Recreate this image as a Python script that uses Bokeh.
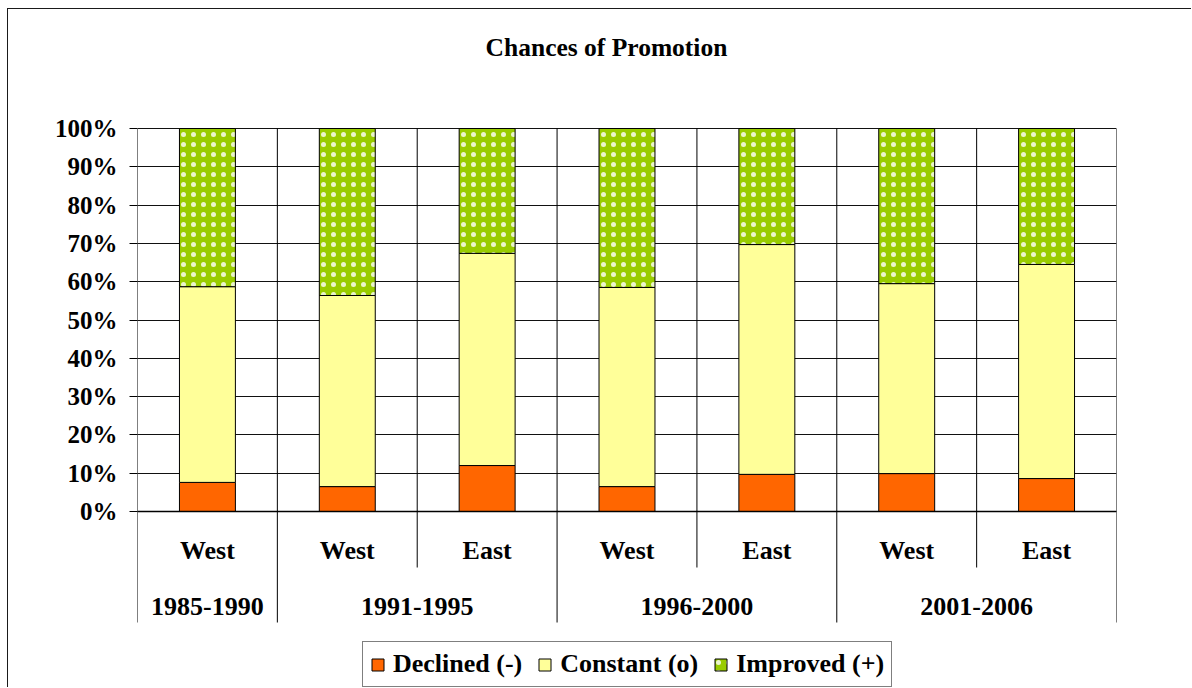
from bokeh.plotting import figure
from bokeh.models import (ColumnDataSource, Range1d, FixedTicker, NumeralTickFormatter,
                          Legend, LegendItem, Label, Span)
from bokeh.core.properties import value
from bokeh.embed import file_html
from bokeh.resources import INLINE

# ---------------- data ----------------
title = "Chances of Promotion"
regions = ["West", "West", "East", "West", "East", "West", "East"]
periods = ["1985-1990", "1991-1995", "1996-2000", "2001-2006"]
period_sizes = [1, 2, 2, 2]
series_names = ["Declined (-)", "Constant (o)", "Improved (+)"]
declined = [7.6, 6.5, 12.0, 6.5, 9.7, 9.9, 8.6]
constant = [51.1, 49.9, 55.4, 52.0, 60.0, 49.6, 55.9]
improved = [41.3, 43.6, 32.6, 41.5, 30.3, 40.5, 35.5]
y_ticks = [0, 10, 20, 30, 40, 50, 60, 70, 80, 90, 100]

# ---------------- styles / layout ----------------
colors = ["#FF6600", "#FFFF99", "#99CC00"]
hatches = [" ", " ", "."]
FONT = "Liberation Serif"
PX = 383.0                      # pixels per 100 %
Y_START = -(688 - 511) / PX     # frame reaches canvas bottom
Y_END = 1 + (128 - 9) / PX      # frame reaches canvas top
AXIS_BOTTOM = -(622 - 511) / PX
SUB_DIV = -(567 - 511) / PX
ROW1 = -(550 - 511) / PX
ROW2 = -(605.5 - 511) / PX

n = len(regions)
xs = [i + 0.5 for i in range(n)]
src = ColumnDataSource(dict(
    x=xs,
    declined=[v / 100 for v in declined],
    constant=[v / 100 for v in constant],
    improved=[v / 100 for v in improved],
))

p = figure(width=1184, height=679, x_range=Range1d(0, n), y_range=Range1d(Y_START, Y_END),
           x_axis_location=None, output_backend="svg", toolbar_location=None, tools="",
           min_border_left=129, min_border_right=76, min_border_top=0, min_border_bottom=0,
           styles={"margin-left": "7px", "margin-top": "8px",
                   "border-left": "1px solid #1a1a1a", "border-top": "1px solid #1a1a1a"})
p.title.visible = False
p.outline_line_color = None
p.background_fill_color = "white"
p.border_fill_color = "white"

tick_vals = [t / 100 for t in y_ticks]
p.ygrid.ticker = FixedTicker(ticks=tick_vals)
p.ygrid.grid_line_color = "#111111"
p.ygrid.grid_line_width = 1
p.xgrid.visible = False

ax = p.yaxis[0]
ax.ticker = FixedTicker(ticks=tick_vals)
ax.formatter = NumeralTickFormatter(format="0%")
ax.major_label_text_font = FONT
ax.major_label_text_font_style = "bold"
ax.major_label_text_font_size = "25px"
ax.major_label_text_color = "black"
ax.axis_line_color = None
ax.major_tick_out = 8
ax.major_tick_in = 0
ax.major_tick_line_color = "black"
ax.minor_tick_line_color = None
ax.major_label_standoff = 12

# category boundaries (plot-area verticals + axis separators)
group_bounds = [0]
for s in period_sizes:
    group_bounds.append(group_bounds[-1] + s)
sub_bounds = [b for b in range(n + 1) if b not in group_bounds]
seg_x = group_bounds + sub_bounds
seg_y1 = [AXIS_BOTTOM] * len(group_bounds) + [SUB_DIV] * len(sub_bounds)
p.segment(x0=seg_x, x1=seg_x, y0=[1.0] * len(seg_x), y1=seg_y1, line_color="black", line_width=1)

# bars
rs = p.vbar_stack(["declined", "constant", "improved"], x="x", width=0.4, source=src,
                  fill_color=colors, line_color="black", line_width=1,
                  hatch_pattern=hatches, hatch_color="white", hatch_scale=10,
                  hatch_weight=0.5, hatch_alpha=0.8)

p.add_layout(Span(location=0, dimension="width", line_color="black", line_width=1.6))

# category labels
p.text(x=xs, y=[ROW1] * n, text=regions, text_align="center", text_baseline="middle",
       text_font=value(FONT), text_font_style="bold", text_font_size="26px", text_color="black")
pcx = [(group_bounds[i] + group_bounds[i + 1]) / 2 for i in range(len(periods))]
p.text(x=pcx, y=[ROW2] * len(periods), text=periods, text_align="center", text_baseline="middle",
       text_font=value(FONT), text_font_style="bold", text_font_size="26px", text_color="black")

# title
p.add_layout(Label(x=469, y=641, x_units="screen", y_units="screen", text=title,
                   text_align="center", text_baseline="middle", text_font=FONT,
                   text_font_style="bold", text_font_size="25.5px", text_color="black"))

legend = Legend(items=[LegendItem(label=nm, renderers=[r]) for nm, r in zip(series_names, rs)],
                location=(225, 1), orientation="horizontal")
legend.label_text_font = FONT
legend.label_text_font_style = "bold"
legend.label_text_font_size = "26px"
legend.label_text_color = "black"
legend.glyph_width = 15
legend.glyph_height = 15
legend.label_standoff = 8
legend.spacing = 15
legend.padding = 7
legend.margin = 0
legend.label_height = 20
legend.border_line_color = "black"
legend.border_line_width = 1
legend.background_fill_color = "white"
legend.background_fill_alpha = 1
p.add_layout(legend)

open("out.html", "w").write(file_html(p, INLINE))
